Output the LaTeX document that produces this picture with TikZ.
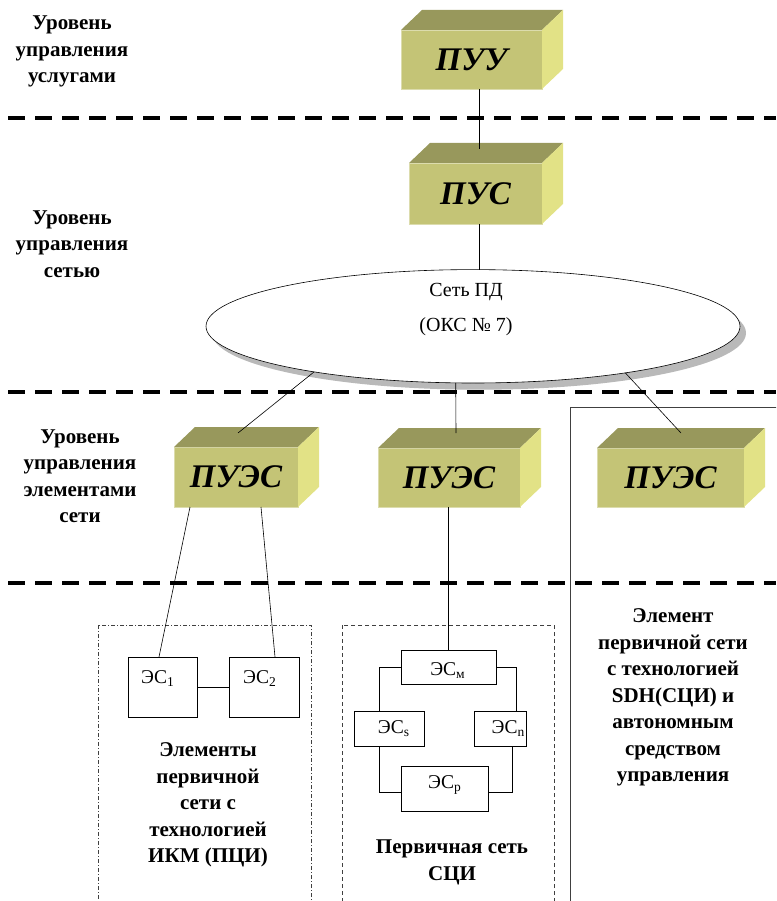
\documentclass[tikz,border=0pt]{standalone}
\usepackage{fontspec}
\setmainfont{Liberation Serif}
\usetikzlibrary{shapes.geometric,calc}
\definecolor{cfront}{HTML}{C4C476}
\definecolor{ctop}{HTML}{98985C}
\definecolor{cside}{HTML}{E2E286}
\newcommand{\sbs}[1]{\raisebox{-0.2em}{\fontsize{13.5}{13.5}\selectfont #1}}
\newcommand{\cubefaces}[1]{%
  \fill[ctop] (#1.north west) -- ++(21,-20) -- ($(#1.north east)+(21,-20)$) -- (#1.north east) -- cycle;
  \fill[cside] (#1.north east) -- ++(21,-20) -- ($(#1.south east)+(21,-20)$) -- (#1.south east) -- cycle;}
\begin{document}
\begin{tikzpicture}[x=1pt,y=-1pt,
  blk/.style={rectangle, fill=cfront, draw=cfront!60!white, line width=0.6pt, inner sep=0pt, outer sep=0pt,
    font=\fontsize{33}{33}\selectfont\bfseries\itshape},
  lvl/.style={align=center, inner sep=0pt, font=\fontsize{21}{26.5}\selectfont\bfseries},
  esbox/.style={rectangle, draw, line width=0.6pt, inner sep=0pt, outer sep=0pt, fill=white},
  estext/.style={inner sep=0pt, anchor=base, font=\fontsize{19.5}{19.5}\selectfont},
  link/.style={line width=0.6pt},
  sepline/.style={line width=4pt, dash pattern=on 17pt off 10pt},
  frame/.style={line width=0.7pt, black!75}
]
\path[use as bounding box] (0,0) rectangle (776,901);
\clip (0,0) rectangle (776,901);

% level separators
\draw[sepline] (8,118) -- (776,118);
\draw[sepline] (8,392) -- (776,392);
\draw[sepline] (8,583) -- (776,583);

% frames
\draw[frame, dash pattern=on 4pt off 2pt on 1pt off 2pt] (98,625) rectangle (311,920);
\draw[frame, dash pattern=on 4pt off 3pt] (342,625) rectangle (554,920);
\draw[frame] (570,407) rectangle (790,920);

% level labels
\node[lvl] (l1) at (72,51.5) {Уровень\\управления\\услугами};
\node[lvl] (l2) at (72,244) {Уровень\\управления\\сетью};
\node[lvl] (l3) at (80,476) {Уровень\\управления\\элементами\\сети};

% cubes
\node[blk, minimum width=141, minimum height=59] (puu) at (471.5,59.5) {ПУУ};
\cubefaces{puu}
\node[blk, minimum width=133, minimum height=61] (pus) at (475.5,193.5) {ПУС};
\cubefaces{pus}
\node[blk, minimum width=124, minimum height=60] (pues1) at (236,477) {ПУЭС};
\cubefaces{pues1}
\node[blk, minimum width=142, minimum height=59] (pues2) at (449,477.5) {ПУЭС};
\cubefaces{pues2}
\node[blk, minimum width=147, minimum height=59] (pues3) at (670.5,477.5) {ПУЭС};
\cubefaces{pues3}

% network ellipse
\fill[gray!55] (479,333) ellipse [x radius=267, y radius=56.7];
\node[ellipse, draw, fill=white, line width=0.6pt, minimum width=534, minimum height=113.4,
  inner sep=0pt, outer sep=0pt] (net) at (473,326.3) {};
\node[align=center, inner sep=0pt, font=\fontsize{20}{35}\selectfont] (nettxt) at (466,310) {Сеть ПД\\(ОКС № 7)};

% connectors top part
\draw[link] ($(puu.south)+(7.5,0)$) -- ($(pus.north)+(3.5,-14)$);
\draw[link] ($(pus.south)+(3.5,0)$) -- ($(net.north)+(6,0)$);
\coordinate (t1) at ($(pues1.north)+(2,-14)$);
\coordinate (t2) at ($(pues2.north)+(7,-15)$);
\coordinate (t3) at ($(pues3.north)+(10.5,-15)$);
\draw[link] (net.196.5) -- (t1);
\draw[link] (net.253.1) -- (t2);
\draw[link] (net.343.6) -- (t3);

% PCI elements
\node[esbox, minimum width=69, minimum height=60] (es1) at (162.5,687) {};
\node[esbox, minimum width=70, minimum height=60] (es2) at (264,687) {};
\node[estext] (es1t) at (157.5,683) {ЭС\sbs{1}};
\node[estext] (es2t) at (259.5,683) {ЭС\sbs{2}};
\draw[link] (es1.east) -- (es2.west);
\draw[link] ($(pues1.south)+(-46,0)$) -- ($(es1.north)+(-3.5,0)$);
\draw[link] ($(pues1.south)+(25,0)$) -- ($(es2.north)+(11,0)$);

% SDH ring
\node[esbox, minimum width=95, minimum height=34] (esm) at (448.5,667) {};
\node[esbox, minimum width=70, minimum height=35] (ess) at (389,728.5) {};
\node[esbox, minimum width=52, minimum height=35] (esn) at (500,728.5) {};
\node[esbox, minimum width=87, minimum height=45] (esp) at (444.5,788.5) {};
\node[estext] (esmt) at (447.5,675) {ЭС\sbs{м}};
\node[estext] (esst) at (393.5,733) {ЭС\sbs{s}};
\node[estext] (esnt) at (508,733) {ЭС\sbs{n}};
\node[estext] (espt) at (444.5,788) {ЭС\sbs{p}};
\draw[link] (esm.north) -- (esm.north |- pues2.south);
\draw[link] (esm.west) -| ($(ess.north)+(-10,0)$);
\draw[link] (esm.east) -| ($(esn.north)+(16,0)$);
\draw[link] ($(ess.south)+(-10,0)$) |- ($(esp.west)+(0,3.5)$);
\draw[link] ($(esn.south)+(12,0)$) |- ($(esp.east)+(0,3.5)$);

% bottom texts
\node[lvl] (txtpci) at (208,805) {Элементы\\первичной\\сети с\\технологией\\ИКМ (ПЦИ)};
\node[lvl] (txtsdh) at (452,862.5) {Первичная сеть\\СЦИ};
\node[lvl] (txtauto) at (673,697.5) {Элемент\\первичной сети\\с технологией\\SDH(СЦИ) и\\автономным\\средством\\управления};
\end{tikzpicture}
\end{document}
